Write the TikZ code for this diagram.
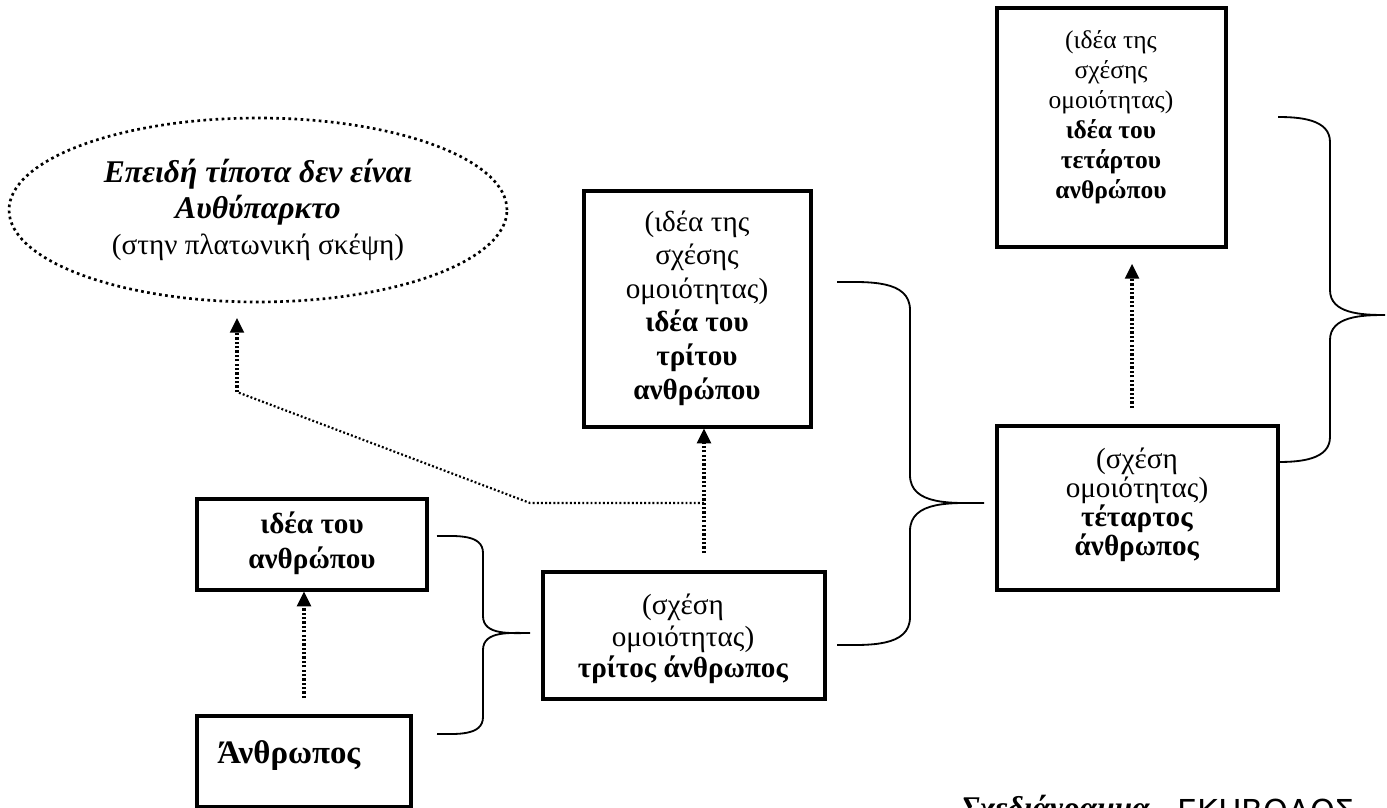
\documentclass[tikz,border=0pt]{standalone}
\usepackage{fontspec}
\setmainfont{Liberation Serif}
\newfontfamily\decofont{DejaVu Sans}
\usetikzlibrary{arrows.meta,fit,shapes.geometric}
\newcommand{\wordbrace}[7]{%
  \draw[bracestyle] (#1,#4) to[out=0,in=90] (#2,#4+#7) -- (#2,#5-#7)
    to[out=-90,in=180] (#3,#5) to[out=180,in=90] (#2,#5+#7)
    -- (#2,#6-#7) to[out=-90,in=0] (#1,#6);}
\begin{document}
\begin{tikzpicture}[x=0.4115pt,y=-0.4115pt,
  box/.style={draw,line width=1.4pt,inner sep=0pt},
  boxtext/.style={align=center,inner sep=0pt,anchor=center},
  bracestyle/.style={line width=0.75pt},
  dotarrow/.style={line width=1.25pt,dash pattern=on 0.9pt off 0.9pt,
    -{Triangle[width=6pt,length=6pt,line width=0pt]}},
  dotline/.style={line width=0.9pt,dash pattern=on 0.8pt off 0.9pt},
  ellipdots/.style={line width=1.1pt,dash pattern=on 1.1pt off 1.4pt}]
\useasboundingbox (0,0) rectangle (1387,808);
\fill[white] (0,0) rectangle (1387,808);

% ellipse
\node[ellipse,draw,ellipdots,minimum width=204.9pt,minimum height=75.7pt,
  inner sep=0pt,align=center,font=\fontsize{12}{14.8}\selectfont] (ell) at (258,210)
  {{\bfseries\itshape\fontsize{13}{14.8}\selectfont Επειδή τίποτα δεν είναι}\\
   {\bfseries\itshape\fontsize{13}{14.8}\selectfont Αυθύπαρκτο}\\
   (στην πλατωνική σκέψη)};

% boxes
\node[box,fit={(197,499)(427,590)}] (ideaman) {};
\node[boxtext,font=\fontsize{12}{14.4}\selectfont\bfseries] (ideamantxt) at (312,543)
  {ιδέα του\\ανθρώπου};
\node[box,fit={(197,716)(411,807)}] (anth) {};
\node[anchor=base west,inner sep=0pt,font=\fontsize{13.5}{15}\selectfont\bfseries] (anthtxt)
  at (217,763) {Άνθρωπος};

\node[box,fit={(584,191)(811,427)}] (ideathird) {};
\node[boxtext,font=\fontsize{12}{13.8}\selectfont] (ideathirdtxt) at (697,308)
  {(ιδέα της\\σχέσης\\ομοιότητας)\\\textbf{ιδέα του}\\\textbf{τρίτου}\\\textbf{ανθρώπου}};
\node[box,fit={(543,572)(825,699)}] (third) {};
\node[boxtext,font=\fontsize{12}{13}\selectfont] (thirdtxt) at (683,639)
  {(σχέση\\ομοιότητας)\\\textbf{τρίτος άνθρωπος}};

\node[box,fit={(997,8)(1226,247)}] (ideafourth) {};
\node[boxtext,font=\fontsize{10.5}{12.3}\selectfont] (ideafourthtxt) at (1111,117)
  {(ιδέα της\\σχέσης\\ομοιότητας)\\\textbf{ιδέα του}\\\textbf{τετάρτου}\\\textbf{ανθρώπου}};
\node[box,fit={(997,426)(1278,590)}] (fourth) {};
\node[boxtext,font=\fontsize{12}{12}\selectfont] (fourthtxt) at (1137,505)
  {(σχέση\\ομοιότητας)\\\textbf{τέταρτος}\\\textbf{άνθρωπος}};

% dotted arrows
\coordinate (t1) at (304,698);
\draw[dotarrow] (t1) -- (t1 |- ideaman.south);
\coordinate (t2) at (704,553);
\draw[dotarrow] (t2) -- (t2 |- ideathird.south);
\coordinate (t3) at (1132,408);
\coordinate (h3) at (1132,264);
\draw[dotarrow] (t3) -- (h3);
\coordinate (j1) at (704,503);
\coordinate (j2) at (530,503);
\coordinate (j3) at (237,392);
\coordinate (h4) at (237,318);
\draw[dotline] (j1) -- (j2) -- (j3);
\draw[dotarrow] (j3) -- (h4);

% braces
\wordbrace{437}{483}{530}{536}{633}{734}{17}
\wordbrace{837}{910}{984}{282}{503}{645}{28}
\wordbrace{1278}{1330}{1385}{117}{315}{462}{25}

% caption (cut by the page edge, as in the reference)
\node[anchor=base west,inner sep=0pt,font=\fontsize{13}{15}\selectfont\bfseries\itshape] (cap)
  at (960,818) {Σχεδιάγραμμα –};
\node[anchor=base west,inner sep=0pt,font=\decofont\fontsize{13}{15}\selectfont] (capname)
  at (1177,822) {ΕΚΗΒΟΛΟΣ};
\end{tikzpicture}
\end{document}
